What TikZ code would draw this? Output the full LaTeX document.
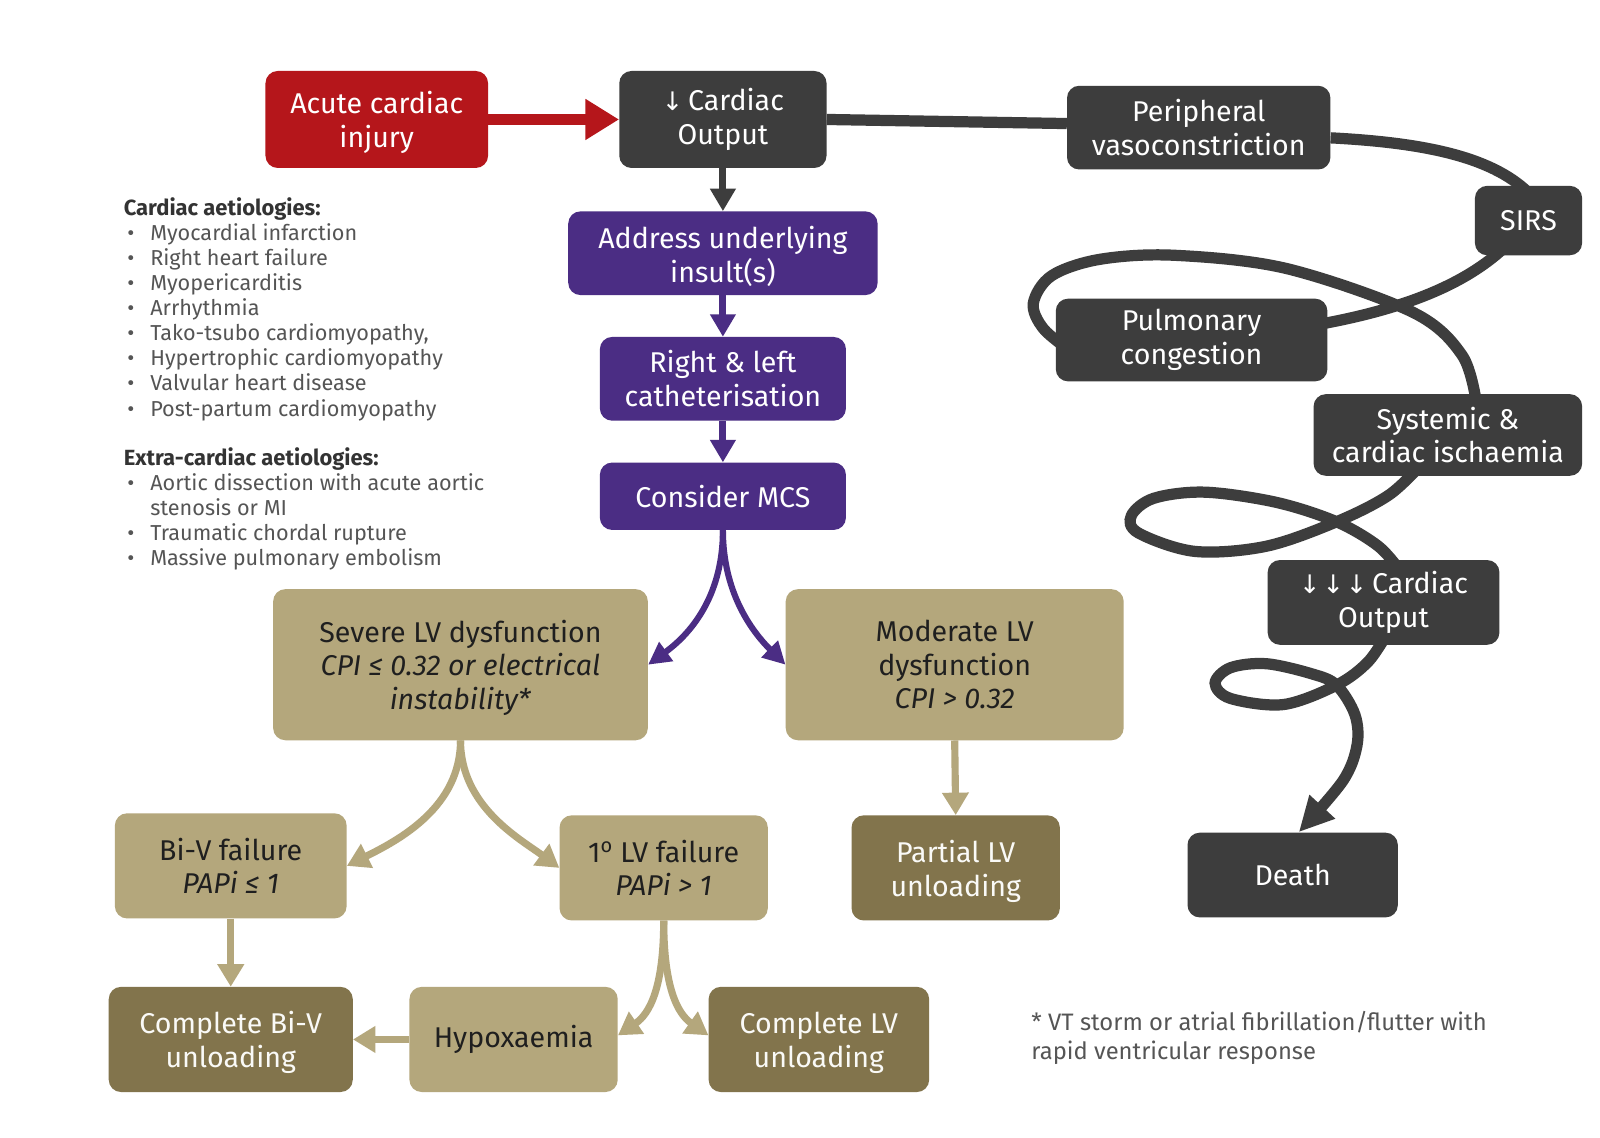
\documentclass[tikz,border=0pt]{standalone}
\usepackage{fontspec}
\setmainfont{Fira Sans}
\newfontfamily\symf{DejaVu Sans}
\usetikzlibrary{arrows.meta}
\definecolor{cred}{HTML}{B5161B}
\definecolor{cdark}{HTML}{3D3D3D}
\definecolor{cpurp}{HTML}{4B2D84}
\definecolor{ctan}{HTML}{B4A77C}
\definecolor{colive}{HTML}{82744C}
\definecolor{ctxt}{HTML}{555555}
\definecolor{chead}{HTML}{333333}
\newcommand{\tall}{\rule{0pt}{28pt}}
\pgfdeclarelayer{bg}
\pgfsetlayers{bg,main}
\begin{document}
\begin{tikzpicture}[x=1pt,y=-1pt,
  box/.style={rounded corners=12pt, inner sep=0pt, align=center, font=\fontsize{28}{33}\selectfont},
  redbox/.style={box, fill=cred, text=white},
  darkbox/.style={box, fill=cdark, text=white},
  purpbox/.style={box, fill=cpurp, text=white},
  tanbox/.style={box, fill=ctan, text=black!88},
  olivebox/.style={box, fill=colive, text=white!94!ctan},
  listtext/.style={inner sep=0pt, anchor=north west, align=left, text=ctxt, font=\fontsize{21.2}{24.6}\selectfont},
  redarrow/.style={cred, line width=10pt, -{Triangle[width=38pt,length=33pt]}},
  darkarrow/.style={cdark, line width=7pt, -{Triangle[width=24pt,length=22pt]}},
  purparrow/.style={cpurp, line width=7pt, -{Triangle[width=24pt,length=22pt]}},
  purpcurve/.style={cpurp, line width=6pt, -{Triangle[width=22pt,length=22pt]}},
  tanarrow/.style={ctan, line width=7pt, -{Triangle[width=25pt,length=22pt]}},
  spiral/.style={cdark, line width=11pt},
  spiralend/.style={cdark, line width=11pt, -{Triangle[width=32pt,length=34pt]}}
]
\useasboundingbox (0,0) rectangle (1567,1114);

% ---- left column
\node[redbox, minimum width=218pt, minimum height=95pt] (acute) at (369,117) {\tall Acute cardiac\\injury};
\node[darkbox, minimum width=203pt, minimum height=95pt] (co1) at (708,117) {{\symf\fontsize{25}{33}\selectfont ↓}\,Cardiac\\Output};
\node[purpbox, minimum width=303pt, minimum height=82pt] (addr) at (708,248) {\tall Address underlying\\insult(s)};
\node[purpbox, minimum width=241pt, minimum height=82pt] (rl) at (708,371) {Right \& left\\catheterisation};
\node[purpbox, minimum width=241pt, minimum height=66pt] (mcs) at (708,486) {Consider MCS};

\node[tanbox, minimum width=367pt, minimum height=148pt] (severe) at (451,651) {\tall Severe LV dysfunction\\\textit{CPI ≤ 0.32 or electrical}\\\textit{instability*}};
\node[tanbox, minimum width=331pt, minimum height=148pt] (moderate) at (935,651) {Moderate LV\\dysfunction\\\textit{CPI > 0.32}};
\node[tanbox, minimum width=227pt, minimum height=103pt] (biv) at (226,848) {Bi-V failure\\\textit{PAPi ≤ 1}};
\node[tanbox, minimum width=204pt, minimum height=103pt] (lv1) at (650,850) {1\textsuperscript{o} LV failure\\\textit{PAPi > 1}};
\node[olivebox, minimum width=204pt, minimum height=103pt] (partial) at (936,850) {\tall Partial LV\\unloading};
\node[olivebox, minimum width=239pt, minimum height=103pt] (cbiv) at (226,1018) {\tall Complete Bi-V\\unloading};
\node[tanbox, minimum width=204pt, minimum height=103pt] (hyp) at (503,1018) {Hypoxaemia};
\node[olivebox, minimum width=216pt, minimum height=103pt] (clv) at (802,1018) {\tall Complete LV\\unloading};

% ---- right column
\node[darkbox, minimum width=258pt, minimum height=82pt] (periph) at (1174,125) {Peripheral\\vasoconstriction};
\node[darkbox, minimum width=105pt, minimum height=68pt] (sirs) at (1497,216) {SIRS};
\node[darkbox, minimum width=266pt, minimum height=81pt] (pulm) at (1167,333) {Pulmonary\\congestion};
\node[darkbox, minimum width=263pt, minimum height=80pt] (syst) at (1418,426) {Systemic \&\\cardiac ischaemia};
\node[darkbox, minimum width=227pt, minimum height=83pt] (co3) at (1355,590) {{\symf\fontsize{25}{33}\selectfont ↓\hspace{2pt}↓\hspace{2pt}↓}\,Cardiac\\Output};
\node[darkbox, minimum width=206pt, minimum height=83pt] (death) at (1266,857) {Death};

% ---- texts
\node[listtext] (cardlist) at (121,193) {{\fontsize{21.5}{24.6}\selectfont\bfseries\color{chead}Cardiac aetiologies:}\\
\makebox[26pt][l]{\,•}Myocardial infarction\\
\makebox[26pt][l]{\,•}Right heart failure\\
\makebox[26pt][l]{\,•}Myopericarditis\\
\makebox[26pt][l]{\,•}Arrhythmia\\
\makebox[26pt][l]{\,•}Tako-tsubo cardiomyopathy,\\
\makebox[26pt][l]{\,•}Hypertrophic cardiomyopathy\\
\makebox[26pt][l]{\,•}Valvular heart disease\\
\makebox[26pt][l]{\,•}Post-partum cardiomyopathy};
\node[listtext] (extralist) at (121,438) {{\fontsize{21.5}{24.6}\selectfont\bfseries\color{chead}Extra-cardiac aetiologies:}\\
\makebox[26pt][l]{\,•}Aortic dissection with acute aortic\\
\hspace*{26pt}stenosis or MI\\
\makebox[26pt][l]{\,•}Traumatic chordal rupture\\
\makebox[26pt][l]{\,•}Massive pulmonary embolism};
\node[inner sep=0pt, anchor=north west, align=left, text=ctxt, font=\fontsize{23.3}{29}\selectfont] (foot) at (1010,990) {* VT storm or atrial fibrillation/flutter with\\rapid ventricular response};

% ---- connectors
\draw[redarrow] (acute.east) -- (co1.west);
\draw[darkarrow] (co1.south) -- (addr.north);
\draw[purparrow] (addr.south) -- (rl.north);
\draw[purparrow] (rl.south) -- (mcs.north);
\draw[purpcurve] (mcs.south) .. controls (708,580) and (680,618) .. (severe.east);
\draw[purpcurve] (mcs.south) .. controls (708,580) and (736,618) .. (moderate.west);
\draw[tanarrow] (severe.south) .. controls (451,790) and (392,822) .. (biv.east);
\draw[tanarrow] (severe.south) .. controls (451,790) and (510,822) .. (lv1.west);
\draw[tanarrow] (moderate.south) -- (partial.north);
\draw[tanarrow] (biv.south) -- (cbiv.north);
\draw[tanarrow] (lv1.south) .. controls (650,968) and (636,993) .. ([yshift=4pt]hyp.east);
\draw[tanarrow] (lv1.south) .. controls (650,968) and (664,993) .. ([yshift=4pt]clv.west);
\draw[tanarrow] (hyp.west) -- (cbiv.east);

\begin{pgfonlayer}{bg}
\fill[white] (0,0) rectangle (1567,1114);
\draw[spiral] (co1.east) -- ([yshift=4pt]periph.west);
\draw[spiral] ([yshift=-10pt]periph.east) .. controls (1400,140) and (1465,155) .. ([xshift=3pt,yshift=-10pt]sirs.north);
\draw[spiral] (sirs.center) .. controls (1450,280) and (1360,318) .. (pulm.center) -- (1050,345)
  plot[smooth, tension=0.55] coordinates {(1050,345) (1022,322) (1012,297) (1030,270) (1077,254) (1150,250) (1260,263) (1384,306) (1432,348) (1446,395)} -- (syst.center);
\draw[spiral] (syst.center) -- (1392,455)
  plot[smooth, tension=0.55] coordinates {(1392,455) (1360,485) (1309,511) (1240,535) (1170,540) (1115,522) (1108,505) (1130,488) (1180,482) (1250,492) (1309,511) (1350,535) (1372,560)} -- (co3.center);
\draw[spiralend] (co3.center) -- (1360,618)
  plot[smooth, tension=0.55] coordinates {(1360,618) (1340,648) (1309,671) (1257,690) (1205,684) (1190,669) (1205,654) (1240,650) (1285,660) (1309,671) (1327,700) (1329,730) (1315,765) (1272,815)};
\end{pgfonlayer}
\end{tikzpicture}
\end{document}
